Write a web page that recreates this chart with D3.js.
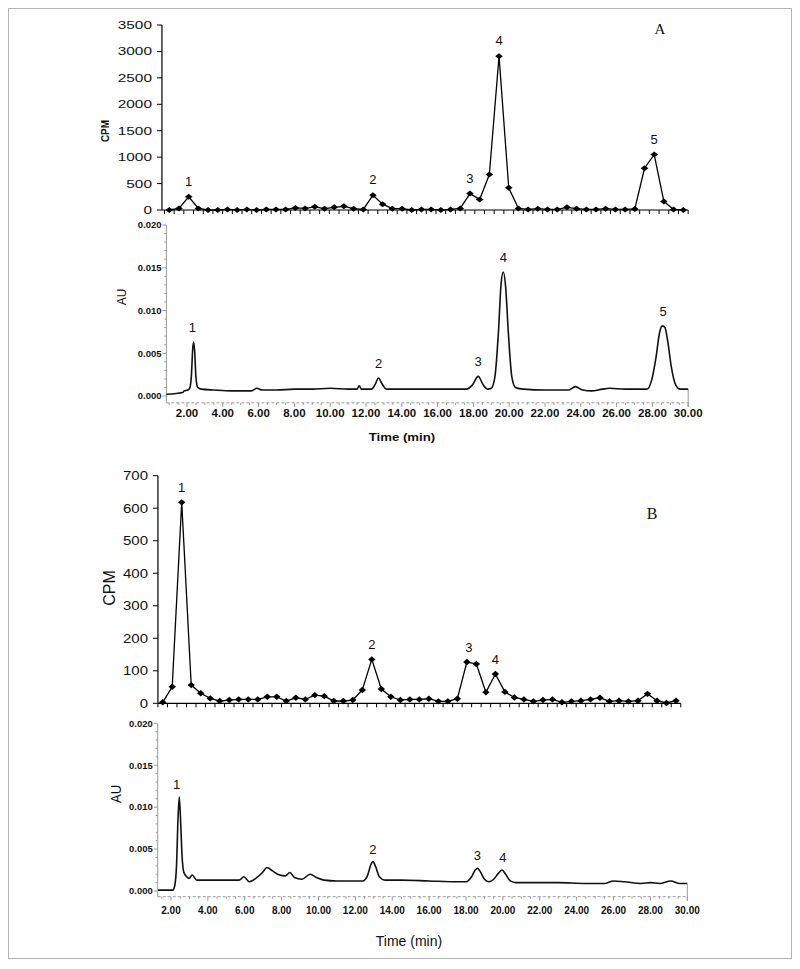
<!DOCTYPE html>
<html>
<head>
<meta charset="utf-8">
<script src="https://cdn.jsdelivr.net/npm/d3@7"></script>
<style>
  body { margin: 0; background: #fff; }
</style>
</head>
<body>
<script>
// ---- data ----
// panel A, radioactivity per fraction (CPM)
const cpmA = [0, 30, 250, 30, 0, 0, 10, 0, 10, 0, 10, 10, 10, 40, 30, 60, 25, 50, 70, 25,
    10, 280, 110, 25, 25, 0, 10, 10, 0, 10, 30, 310, 200, 670, 2910, 420, 30, 10, 25, 10,
    10, 50, 25, 10, 10, 25, 10, 10, 20, 790, 1050, 160, 10, 0];
// panel B, radioactivity per fraction (CPM)
const cpmB = [3, 51, 618, 56, 31, 15, 7, 10, 12, 12, 12, 20, 20, 7, 17, 12, 25, 22, 7, 7,
    10, 41, 135, 44, 20, 10, 12, 12, 14, 6, 6, 14, 127, 121, 34, 90, 35, 18, 12, 6,
    10, 12, 3, 6, 8, 12, 17, 6, 8, 6, 8, 29, 8, 1, 8];
// UV trace A : [time (min), AU]
const auA = [[0.85, 0.0002], [1.4, 0.0003], [1.75, 0.0004], [1.85, 0.0006], [2.05, 0.0007],
    [2.15, 0.0009], [2.25, 0.0025], [2.32, 0.0055], [2.37, 0.0063], [2.43, 0.0052], [2.5, 0.0022],
    [2.6, 0.001], [2.8, 0.0008], [3.5, 0.0007], [4.5, 0.0006], [5.6, 0.0006], [5.9, 0.0009],
    [6.2, 0.0007], [7.0, 0.0007], [8.0, 0.0008], [9.0, 0.0008], [10.0, 0.0009], [11.0, 0.0008],
    [11.5, 0.0008], [11.62, 0.0012], [11.75, 0.0008], [12.3, 0.0008], [12.5, 0.0013],
    [12.7, 0.0021], [12.9, 0.0014], [13.15, 0.0008], [14.0, 0.0008], [16.0, 0.0008],
    [17.6, 0.0008], [17.95, 0.0013], [18.27, 0.0023], [18.55, 0.0013], [18.8, 0.0008],
    [19.0, 0.0009], [19.2, 0.0022], [19.4, 0.0075], [19.55, 0.0132], [19.67, 0.0145],
    [19.8, 0.0128], [19.95, 0.0075], [20.15, 0.0022], [20.35, 0.001], [20.8, 0.0008],
    [22.0, 0.0007], [23.3, 0.0007], [23.7, 0.0011], [24.1, 0.0007], [24.6, 0.0006],
    [25.2, 0.0008], [25.6, 0.0009], [26.5, 0.0008], [27.7, 0.0008], [27.95, 0.0018],
    [28.2, 0.0045], [28.4, 0.0074], [28.55, 0.0082], [28.7, 0.008], [28.85, 0.0065],
    [29.05, 0.0035], [29.3, 0.0013], [29.55, 0.0008], [30.0, 0.0008]];
// UV trace B : [time (min), AU]
const auB = [[1.3, 0.0001], [1.9, 0.0001], [2.1, 0.0001], [2.2, 0.0006], [2.3, 0.003],
    [2.38, 0.0085], [2.45, 0.0112], [2.52, 0.0085], [2.6, 0.0042], [2.7, 0.0022], [2.85, 0.0017],
    [2.98, 0.0015], [3.15, 0.0019], [3.4, 0.0013], [4.0, 0.0013], [5.0, 0.0013], [5.7, 0.0013],
    [5.95, 0.0017], [6.25, 0.0011], [6.6, 0.0015], [7.0, 0.0023], [7.2, 0.0028], [7.5, 0.0024],
    [7.9, 0.0019], [8.2, 0.0018], [8.45, 0.0022], [8.7, 0.0016], [9.1, 0.0014], [9.55, 0.002],
    [9.9, 0.0016], [10.3, 0.0013], [11.0, 0.0012], [12.4, 0.0012], [12.65, 0.0018],
    [12.85, 0.0032], [12.95, 0.0035], [13.1, 0.0029], [13.3, 0.0017], [13.6, 0.0013],
    [14.5, 0.0013], [16.0, 0.0012], [17.5, 0.0011], [18.0, 0.0011], [18.3, 0.0017],
    [18.5, 0.0025], [18.62, 0.0027], [18.8, 0.0022], [19.0, 0.0014], [19.25, 0.0011],
    [19.5, 0.0014], [19.75, 0.0021], [19.95, 0.0025], [20.15, 0.002], [20.4, 0.0012],
    [20.7, 0.001], [21.5, 0.001], [23.0, 0.001], [24.5, 0.0009], [25.5, 0.0009], [26.0, 0.0012],
    [26.6, 0.0011], [27.5, 0.0009], [28.0, 0.001], [28.5, 0.0009], [29.1, 0.0012],
    [29.6, 0.0009], [30.0, 0.0009]];
// peak numbers
const cpmLabelsA = [{t: '1', i: 2}, {t: '2', i: 21}, {t: '3', i: 31}, {t: '4', i: 34}, {t: '5', i: 50}];
const cpmLabelsB = [{t: '1', i: 2}, {t: '2', i: 22}, {t: '3', i: 32.2}, {t: '4', i: 35}];
const auLabelsA = [{t: '1', x: 2.3}, {t: '2', x: 12.7}, {t: '3', x: 18.27}, {t: '4', x: 19.67}, {t: '5', x: 28.6}];
const auLabelsB = [{t: '1', x: 2.3}, {t: '2', x: 12.95}, {t: '3', x: 18.62}, {t: '4', x: 20.0}];
const timeTicks = d3.range(2, 31, 2);

let svg = d3.select('body').append('svg')
    .attr('width', 800)
    .attr('height', 969);

// outer frame
svg.append('rect')
    .attr('x', 8.5).attr('y', 8.5)
    .attr('width', 783).attr('height', 950)
    .attr('fill', 'none')
    .attr('stroke', '#b5b5b5');

// text helper, the original figure is stretched sideways a bit
function addText(g, x, y, str, o) {
    let tr = `translate(${x},${y}) scale(${o.sx || 1},1)` + (o.rot ? ' rotate(-90)' : '');
    return g.append('text')
        .attr('transform', tr)
        .attr('text-anchor', o.anchor || 'middle')
        .attr('font-family', o.family || 'Liberation Sans, Arial, sans-serif')
        .attr('font-size', o.size)
        .attr('font-weight', o.weight || 'normal')
        .attr('fill', '#111')
        .text(str);
}

// CPM panel : line + diamond markers
function drawCpm(c) {
    let g = svg.append('g');
    let x = d3.scalePoint().domain(d3.range(c.values.length)).range(c.xRange);
    let step = x.step();
    let y = d3.scaleLinear().domain([0, c.yMax]).range(c.yRange);
    let left = x(0) - step / 2 - c.axisGap;
    let right = x(c.values.length - 1) + step / 2;

    // axes
    g.append('line').attr('x1', left).attr('x2', left)
        .attr('y1', y(0)).attr('y2', y(c.yMax))
        .attr('stroke', '#000').attr('stroke-width', 1.2);
    g.append('line').attr('x1', left).attr('x2', right)
        .attr('y1', y(0)).attr('y2', y(0))
        .attr('stroke', '#000').attr('stroke-width', 1.2);
    d3.range(0, c.yMax + 1, c.yStep).forEach(function (v) {
        g.append('line').attr('x1', left - 5).attr('x2', left)
            .attr('y1', y(v)).attr('y2', y(v))
            .attr('stroke', '#000');
        addText(g, c.labelX, y(v) + c.tickSize * 0.36, v, {size: c.tickSize, anchor: 'end', sx: c.tickSx});
    });
    d3.range(c.values.length + 1).forEach(function (i) {
        let xx = x(0) + (i - 0.5) * step;
        g.append('line').attr('x1', xx).attr('x2', xx)
            .attr('y1', y(0)).attr('y2', y(0) + 4)
            .attr('stroke', '#000');
    });

    // the line
    let line = d3.line()
        .x((d, i) => x(i))
        .y(d => y(d));
    g.append('path')
        .datum(c.values)
        .attr('d', line)
        .attr('fill', 'none')
        .attr('stroke', '#000')
        .attr('stroke-width', 1.3);
    // diamonds
    g.selectAll('.mk')
        .data(c.values)
        .enter().append('path')
        .attr('d', (d, i) => {
            let px = x(i), py = y(d), w = c.mw, h = c.mh;
            return `M${px - w},${py}L${px},${py - h}L${px + w},${py}L${px},${py + h}Z`;
        })
        .attr('fill', '#000');

    // peak numbers
    c.labels.forEach(function (l) {
        let i0 = Math.floor(l.i), f = l.i - i0;
        let v = c.values[i0] * (1 - f) + (c.values[i0 + 1] || 0) * f;
        addText(g, x(0) + l.i * step, y(v) - c.labelOff, l.t, {size: c.numSize});
    });
    addText(g, c.yTitle[0], c.yTitle[1], 'CPM', {size: c.yTitleSize, weight: c.yTitleWeight, rot: true, sx: c.yTitleSx});
    addText(g, c.tag[0], c.tag[1], c.tag[2], {size: c.tag[3], family: 'Liberation Serif, Times New Roman, serif'});
}

// UV panel : chromatogram trace
function drawAu(c) {
    let g = svg.append('g');
    let x = d3.scaleLinear().domain(c.xDomain).range(c.xRange);
    let y = d3.scaleLinear().domain([0, 0.02]).range(c.yRange);
    let axisY = y(c.axisV);
    let grey = '#9a9a9a';

    // left axis
    g.append('line').attr('x1', x(c.xDomain[0])).attr('x2', x(c.xDomain[0]))
        .attr('y1', y(0.02)).attr('y2', axisY)
        .attr('stroke', grey);
    d3.range(0, 0.0201, 0.001).forEach(function (v, k) {
        let major = k % 5 === 0;
        g.append('line').attr('x1', x(c.xDomain[0]) - (major ? 4 : 2)).attr('x2', x(c.xDomain[0]))
            .attr('y1', y(v)).attr('y2', y(v))
            .attr('stroke', grey);
        if (major) {
            addText(g, x(c.xDomain[0]) - 5, y(v) + 3.3, v.toFixed(3), {size: 9, weight: 'bold', anchor: 'end', sx: 1.05});
        }
    });
    // bottom axis, dashed grey
    g.append('line').attr('x1', x(c.xDomain[0])).attr('x2', x(30))
        .attr('y1', axisY).attr('y2', axisY)
        .attr('stroke', grey).attr('stroke-dasharray', '3,2');
    d3.range(Math.ceil(c.xDomain[0] * 2) / 2, 30.01, 0.5).forEach(function (t) {
        g.append('line').attr('x1', x(t)).attr('x2', x(t))
            .attr('y1', axisY).attr('y2', axisY + (t % 2 === 0 ? 4 : 2))
            .attr('stroke', grey);
    });
    g.append('line').attr('x1', x(30)).attr('x2', x(30))
        .attr('y1', y(0.0008)).attr('y2', axisY + 4)
        .attr('stroke', grey);
    timeTicks.forEach(function (t) {
        addText(g, x(t), axisY + c.tickDy, t.toFixed(2), {size: 10, weight: 'bold', sx: c.tickSx});
    });

    // the trace
    let line = d3.line()
        .x(d => x(d[0]))
        .y(d => y(d[1]))
        .curve(d3.curveMonotoneX);
    g.append('path')
        .datum(c.trace)
        .attr('d', line)
        .attr('fill', 'none')
        .attr('stroke', '#111')
        .attr('stroke-width', 1.6);

    // peak numbers sit above the local maximum of the trace
    c.labels.forEach(function (l) {
        let top = d3.max(c.trace.filter(d => Math.abs(d[0] - l.x) <= 0.2), d => d[1]);
        addText(g, x(l.x), y(top) - c.labelOff, l.t, {size: 13});
    });
    addText(g, c.yTitle[0], c.yTitle[1], 'AU', {size: c.yTitle[2], rot: true, sx: c.yTitle[3]});
    addText(g, c.xTitle[0], c.xTitle[1], 'Time (min)', {size: c.xTitle[2], weight: c.xTitle[3], sx: c.xTitle[4]});
}

// ---- panel A ----
drawCpm({
    values: cpmA, xRange: [169.3, 683.3], axisGap: 2.5, yMax: 3500, yStep: 500, yRange: [210, 25],
    labelX: 152, tickSize: 11, tickSx: 1.4, mw: 3.8, mh: 3,
    labels: cpmLabelsA, labelOff: 11, numSize: 13,
    yTitle: [109, 131], yTitleSize: 10, yTitleWeight: 'bold', yTitleSx: 1,
    tag: [660, 34, 'A', 15]
});
drawAu({
    trace: auA, xDomain: [0.85, 30], xRange: [166.4, 688.2], yRange: [396, 225], axisV: -0.0008,
    tickDy: 14, tickSx: 1.15, labels: auLabelsA, labelOff: 10,
    yTitle: [126, 297, 12, 1], xTitle: [402, 441, 11, 'bold', 1.2]
});

// ---- panel B ----
drawCpm({
    values: cpmB, xRange: [162.7, 676], axisGap: 0, yMax: 700, yStep: 100, yRange: [703.3, 475.7],
    labelX: 148, tickSize: 12, tickSx: 1.25, mw: 3.7, mh: 3.2,
    labels: cpmLabelsB, labelOff: 10, numSize: 13,
    yTitle: [115, 588, 11.7, 'normal', 1.43],
    tag: [652, 519, 'B', 16]
});
drawAu({
    trace: auB, xDomain: [1.28, 30], xRange: [157.7, 687.3], yRange: [891, 723.3], axisV: -0.00068,
    tickDy: 17, tickSx: 1.0, labels: auLabelsB, labelOff: 8,
    yTitle: [121, 794, 13, 1.07], xTitle: [409, 946, 14, 'normal', 1]
});
</script>
</body>
</html>
